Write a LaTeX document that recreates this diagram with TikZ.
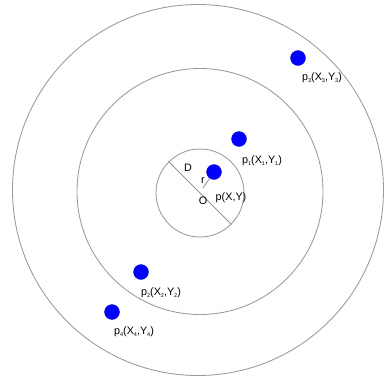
\documentclass[tikz,border=0pt]{standalone}
\usepackage{fontspec}
\setmainfont{Liberation Sans}
\newcommand{\tinysub}[1]{\raisebox{-0.25ex}{\fontsize{5.5}{6}\selectfont #1}}
\begin{document}
\begin{tikzpicture}[x=1pt,y=-1pt,
  ring/.style={draw=black!40,line width=0.85pt,circle,inner sep=0pt},
  dot/.style={circle,fill=blue,draw=blue!70!black,line width=0.3pt,minimum size=15pt,inner sep=0pt},
  lbl/.style={inner sep=0pt,font=\fontsize{10.8}{12}\selectfont},
  seg/.style={draw=black!42,line width=0.85pt}]
\useasboundingbox (0,0) rectangle (385,381);
\node[ring,minimum size=371pt] (outer) at (198,190) {};
\node[ring,minimum size=246pt] (mid) at (200,191.5) {};
\node[ring,minimum size=88pt] (inner) at (200,193) {};
\draw[seg] (inner.135) -- (inner.-45);
\coordinate (O) at (203,188);
\node[dot] (p) at (214,172) {};
\draw[seg] (O) -- (p);
\node[lbl] (Dl) at (188,168) {D};
\node[lbl] (rl) at (203,181) {r};
\node[lbl] (Ol) at (203,201) {O};
\node[lbl] (pl) at (231,198) {p(X,Y)};
\node[dot] (p1) at (239,139) {};
\node[lbl] (p1l) at (262,161) {p\tinysub{1}(X\tinysub{1},Y\tinysub{1})};
\node[dot] (p3) at (298,58) {};
\node[lbl] (p3l) at (322,78) {p\tinysub{3}(X\tinysub{3},Y\tinysub{3})};
\node[dot] (p2) at (141,272) {};
\node[lbl] (p2l) at (161,293) {p\tinysub{2}(X\tinysub{2},Y\tinysub{2})};
\node[dot] (p4) at (112,312) {};
\node[lbl] (p4l) at (134,332) {p\tinysub{4}(X\tinysub{4},Y\tinysub{4})};
\end{tikzpicture}
\end{document}
